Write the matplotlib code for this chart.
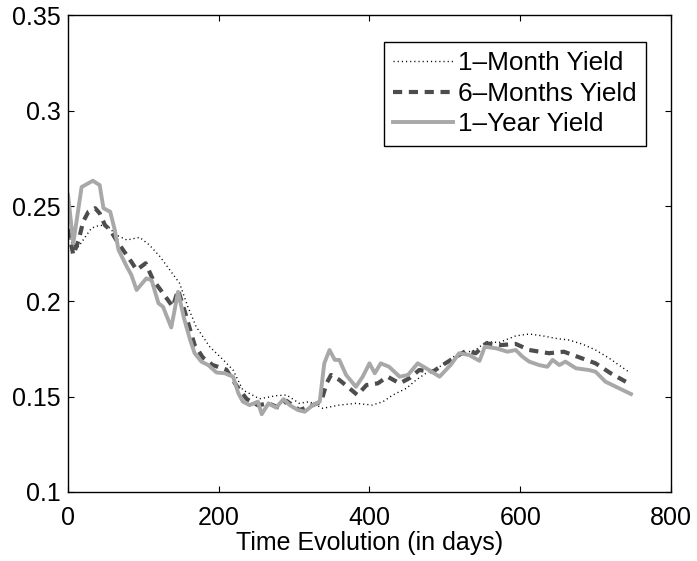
import matplotlib.pyplot as plt

# 1-Month yield (dotted)
days_1m = [0, 6, 14, 20, 31, 42, 53, 64, 78, 95, 108, 122, 135, 148, 159, 170,
           188, 206, 219, 232, 254, 276, 290, 307, 320, 338, 360, 382, 404, 418,
           431, 449, 462, 475, 493, 515, 541, 555, 572, 594, 612, 630, 647, 665,
           683, 700, 718, 731, 746]
yield_1m = [0.235, 0.2296, 0.2287, 0.2322, 0.2384, 0.240, 0.2392, 0.2349, 0.2322,
            0.2336, 0.2296, 0.2235, 0.2165, 0.2095, 0.1972, 0.1867, 0.1762, 0.1693,
            0.164, 0.1535, 0.1489, 0.1505, 0.1509, 0.1465, 0.1474, 0.1439, 0.1456,
            0.1465, 0.1456, 0.1474, 0.1509, 0.1544, 0.1588, 0.1623, 0.1657, 0.1719,
            0.1745, 0.1789, 0.1784, 0.1819, 0.1829, 0.1819, 0.1806, 0.1797, 0.1775,
            0.1745, 0.1702, 0.1666, 0.1625]

# 6-Months yield (dashed)
days_6m = [0, 7, 14, 20, 27, 36, 42, 49, 56, 64, 73, 84, 91, 103, 113, 126, 139,
           146, 155, 168, 179, 192, 210, 223, 237, 252, 266, 280, 290, 307, 320,
           336, 343, 349, 360, 371, 384, 396, 411, 424, 440, 453, 466, 484, 497,
           515, 528, 541, 555, 572, 594, 612, 638, 658, 678, 700, 720, 744]
yield_6m = [0.238, 0.2244, 0.232, 0.2418, 0.247, 0.2489, 0.2462, 0.240, 0.2375,
            0.2322, 0.227, 0.2208, 0.2165, 0.220, 0.2112, 0.2043, 0.1972, 0.206,
            0.1946, 0.1771, 0.1705, 0.1666, 0.1642, 0.1561, 0.1488, 0.1455, 0.1465,
            0.1442, 0.1478, 0.143, 0.1448, 0.1474, 0.157, 0.1614, 0.1588, 0.1552,
            0.1509, 0.1561, 0.157, 0.1605, 0.157, 0.1597, 0.164, 0.1631, 0.1666,
            0.171, 0.174, 0.1728, 0.178, 0.177, 0.1777, 0.1745, 0.1728, 0.1736,
            0.1707, 0.1675, 0.1623, 0.157]

# 1-Year yield (solid)
days_1y = [0, 7, 18, 33, 42, 47, 56, 62, 67, 78, 84, 91, 104, 111, 120, 126, 137,
           146, 154, 162, 168, 177, 186, 197, 208, 219, 226, 232, 241, 252, 257,
           266, 276, 286, 294, 305, 314, 325, 334, 340, 347, 354, 360, 369, 382,
           391, 400, 407, 415, 426, 440, 451, 464, 479, 493, 508, 519, 532, 546,
           553, 568, 583, 594, 603, 612, 625, 636, 643, 652, 660, 674, 691, 700,
           713, 727, 747]
yield_1y = [0.2558, 0.2305, 0.260, 0.2633, 0.261, 0.2489, 0.247, 0.2375, 0.227,
            0.2182, 0.2139, 0.206, 0.2121, 0.211, 0.199, 0.1972, 0.1863, 0.205,
            0.191, 0.1798, 0.1728, 0.1684, 0.1666, 0.1627, 0.1623, 0.1605, 0.1518,
            0.1474, 0.1456, 0.1474, 0.1408, 0.1465, 0.1443, 0.1487, 0.1456, 0.143,
            0.1421, 0.1456, 0.1474, 0.1675, 0.1745, 0.1693, 0.1693, 0.1614, 0.1552,
            0.1605, 0.1675, 0.1623, 0.1675, 0.1657, 0.1605, 0.1614, 0.1675, 0.164,
            0.1605, 0.1668, 0.1728, 0.1719, 0.1688, 0.1762, 0.1754, 0.1736, 0.1745,
            0.171, 0.1684, 0.1666, 0.1657, 0.1693, 0.1666, 0.1684, 0.1649, 0.164,
            0.1631, 0.1579, 0.1552, 0.1514]

plt.rcParams['font.family'] = ['Liberation Sans', 'DejaVu Sans']
plt.rcParams['font.size'] = 18

fig = plt.figure(figsize=(6.97, 5.61), dpi=100)
ax = fig.add_axes([0.0976, 0.123, 0.865, 0.8494])

ax.plot(days_1m, yield_1m, color='black', linestyle=(0, (0.8, 2.2)), linewidth=1.0,
        label='1\u2013Month Yield')
ax.plot(days_6m, yield_6m, color='#4d4d4d', linestyle=(0, (2.2, 1.6)), linewidth=3.0,
        label='6\u2013Months Yield')
ax.plot(days_1y, yield_1y, color='#a8a8a8', linestyle='-', linewidth=2.8,
        label='1\u2013Year Yield')

ax.set_xlim(0, 800)
ax.set_ylim(0.1, 0.35)
ax.set_xticks([0, 200, 400, 600, 800])
ax.set_yticks([0.1, 0.15, 0.2, 0.25, 0.3, 0.35])
ax.set_yticklabels(['0.1', '0.15', '0.2', '0.25', '0.3', '0.35'])
ax.tick_params(direction='in', length=4.3, width=0.8, top=True, right=True)
ax.tick_params(axis='x', pad=10)
ax.tick_params(axis='y', pad=5)
for s in ax.spines.values():
    s.set_linewidth(1.0)

ax.set_xlabel('Time Evolution (in days)', labelpad=1)

leg = ax.legend(loc='upper right', bbox_to_anchor=(0.9585, 0.944), frameon=True,
                fancybox=False, edgecolor='black', framealpha=1, handlelength=2.3,
                handletextpad=0.2, borderpad=0.35, labelspacing=0.25,
                borderaxespad=0, fontsize=18.8)
leg.get_frame().set_linewidth(1.0)

fig.savefig('out.png', dpi=100)
